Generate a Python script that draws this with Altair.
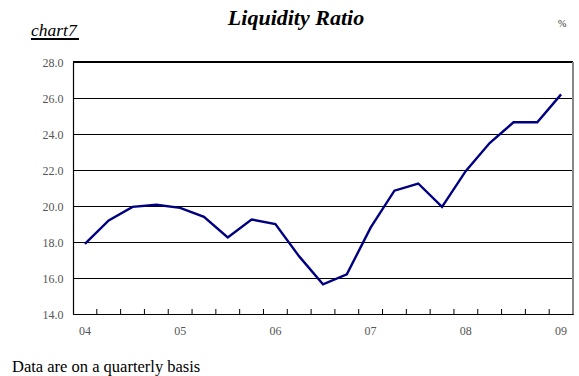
import altair as alt
import pandas as pd

quarters = ["04Q1","04Q2","04Q3","04Q4","05Q1","05Q2","05Q3","05Q4",
            "06Q1","06Q2","06Q3","06Q4","07Q1","07Q2","07Q3","07Q4",
            "08Q1","08Q2","08Q3","08Q4","09Q1"]
ratio = [17.9, 19.2, 19.95, 20.07, 19.9, 19.4, 18.25, 19.25,
         19.0, 17.2, 15.65, 16.2, 18.8, 20.85, 21.25, 19.95,
         21.95, 23.5, 24.65, 24.65, 26.2]
y_ticks = [14, 16, 18, 20, 22, 24, 26, 28]

W, H = 500, 252
SERIF = "Liberation Serif, Times New Roman, serif"

df = pd.DataFrame({"q": quarters, "v": ratio})
ticks_df = pd.DataFrame({"q": quarters[1:]})

xscale = alt.Scale(domain=quarters, paddingInner=0, paddingOuter=0)
yscale = alt.Scale(domain=[14, 28])

line = alt.Chart(df).mark_line(color="#000080", strokeWidth=2.4).encode(
    x=alt.X("q:N", scale=xscale, sort=quarters, title=None,
            axis=alt.Axis(ticks=False, domain=True, domainColor="#000", domainWidth=1.2,
                          labelAngle=0, labelFont=SERIF, labelFontSize=12, labelColor="#555",
                          labelPadding=11,
                          labelExpr="substring(datum.value, 2, 4) == 'Q1' ? substring(datum.value, 0, 2) : ''")),
    y=alt.Y("v:Q", scale=yscale, title=None,
            axis=alt.Axis(values=y_ticks, format=".1f", grid=True, gridColor="#000", gridWidth=1,
                          ticks=False, domain=True, domainColor="#000", domainWidth=1.2,
                          labelFont=SERIF, labelFontSize=12, labelColor="#555", labelPadding=10)),
)

qticks = alt.Chart(ticks_df).mark_rule(color="#000", strokeWidth=1).encode(
    x=alt.X("q:N", scale=xscale, sort=quarters, bandPosition=0),
    y=alt.value(H - 5),
    y2=alt.value(H),
)

top_border = alt.Chart(ticks_df).mark_rule(color="#000", strokeWidth=1).encode(
    x=alt.value(0), x2=alt.value(W), y=alt.value(0))
right_border = alt.Chart(ticks_df).mark_rule(color="#888", strokeWidth=1).encode(
    x=alt.value(W), y=alt.value(0), y2=alt.value(H))

def label(text, x, y, size, style="normal", weight="normal", align="left", color="#000"):
    return alt.Chart(pd.DataFrame({"t": [text]})).mark_text(
        font=SERIF, fontSize=size, fontStyle=style, fontWeight=weight,
        align=align, baseline="alphabetic", color=color).encode(
        text="t:N", x=alt.value(x), y=alt.value(y))

title = label("Liquidity Ratio", 223, -37, 22, style="italic", weight="bold", align="center")
chart7 = label("chart7", -42, -26, 17.5, style="italic")
underline = alt.Chart(ticks_df).mark_rule(color="#000", strokeWidth=1).encode(
    x=alt.value(-42), x2=alt.value(6), y=alt.value(-23))
pct = label("%", 485, -35, 10, color="#333")
footer = label("Data are on a quarterly basis", -61, 310, 16.5)

chart = alt.layer(line, qticks, top_border, right_border, title, chart7, underline, pct, footer).properties(
    width=W, height=H,
    autosize=alt.AutoSizeParams(type="none"),
    padding={"left": 73, "top": 62, "right": 6, "bottom": 62},
).configure_view(stroke=None).configure(background="white")

chart.save("out.html", embed_options={"renderer": "svg", "actions": False})
